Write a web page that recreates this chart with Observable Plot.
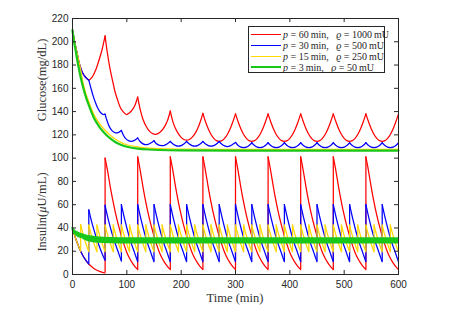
<!DOCTYPE html>
<html>
<head>
<meta charset="utf-8">
<script src="https://cdn.jsdelivr.net/npm/d3@7"></script>
<script src="https://cdn.jsdelivr.net/npm/@observablehq/plot@0.6"></script>
<style>
  html, body { margin: 0; padding: 0; background: #fff; }
  #wrap { position: relative; width: 458px; height: 327px; overflow: hidden; background: #fff; }
  .lab { position: absolute; font-family: "Liberation Serif", "Times New Roman", serif; font-size: 12.5px; color: #333; white-space: nowrap; transform: translate(-50%, -50%); }
  .rot { transform: translate(-50%, -50%) rotate(-90deg); }
  #legend { position: absolute; left: 248px; top: 26px; width: 137px; height: 47px; border: 1px solid #262626; background: #fff; box-sizing: border-box; }
  .row { position: absolute; left: 0; height: 11px; display: flex; align-items: center; white-space: nowrap; font-family: "Liberation Serif", "Times New Roman", serif; font-size: 10px; color: #262626; }
  .sw { width: 30px; height: 0; margin-left: 2px; margin-right: 2px; }
</style>
</head>
<body>
<div id="wrap">
  <div id="chart"></div>
  <div class="lab rot" style="left:42px; top:80px;">Glucose(mg/dL)</div>
  <div class="lab rot" style="left:42px; top:212px;">Insulin(<i>μ</i>U/mL)</div>
  <div class="lab" style="left:235px; top:298px;">Time (min)</div>
  <div id="legend"></div>
</div>
<script>
// ---------- data ----------
const xTicks = [0, 100, 200, 300, 400, 500, 600];
const yTicks = [0, 20, 40, 60, 80, 100, 120, 140, 160, 180, 200, 220];

const seriesNames = ["p60", "p30", "p15", "p3"];
const seriesColors = ["#ff0000", "#0000ff", "#ffd800", "#18c818"];
const periods = [60, 30, 15, 3];
const doses = [1000, 500, 250, 50];

// Glucose (mg/dL) — [time, value]
const redGlucose = [
  [0,210],[4,200],[8,191],[14,179],[19,173],[24,169.5],[30,167],
  [36,169.5],[42,175],[48,183],[54,192.5],[60,205],
  [64,191],[69,177],[74,166],[78,157.5],[83,150],[88,143.5],[93,140],[99,137.5],[105,139],[110,141.5],[115,145.5],[120,152.5],
  [125,141],[130,133],[136,127],[142,123],[147,121.2],[152,120.5],[158,121.3],[164,123.5],[170,127.5],[175,132.5],[180,140.5],
  [185,131],[190,125],[195,120.8],[200,117.8],[205,116],[210,115.5],[215,116],[220,117.8],[225,120.8],[230,125],[235,131],[240,138.5],
  [245,131],[250,125],[255,120.3],[260,117],[265,115],[270,114.5],[275,115],[280,117],[285,120.3],[290,125],[295,131],[300,138],
  [305,131],[310,125],[315,120.3],[320,117],[325,115],[330,114.5],[335,115],[340,117],[345,120.3],[350,125],[355,131],[360,138],
  [365,131],[370,125],[375,120.3],[380,117],[385,115],[390,114.5],[395,115],[400,117],[405,120.3],[410,125],[415,131],[420,138],
  [425,131],[430,125],[435,120.3],[440,117],[445,115],[450,114.5],[455,115],[460,117],[465,120.3],[470,125],[475,131],[480,138],
  [485,131],[490,125],[495,120.3],[500,117],[505,115],[510,114.5],[515,115],[520,117],[525,120.3],[530,125],[535,131],[540,138],
  [545,131],[550,125],[555,120.3],[560,117],[565,115],[570,114.5],[575,115],[580,117],[585,120.3],[590,125],[595,131],[600,138]
];
const blueGlucose = [
  [0,210],[4,200],[8,191],[14,179],[19,173],[24,169.5],[30,167],
  [34,160],[38,153.5],[42,148],[46,143.5],[50,140.2],[54,138.2],[57,137.5],[60,137.8],
  [64,131.5],[69,126],[74,123],[79,121.8],[84,122],[90,123.8],
  [94,119.5],[98,116.8],[103,115],[108,114.5],[114,115.3],[120,117.3],
  [124,114.5],[129,112.5],[134,111.7],[139,111.8],[144,113],[150,115],
  [154,112.5],[159,111.2],[164,110.8],[169,111],[174,112.2],[180,114.3],
  [185,112.1],[190,110.8],[195,110.4],[200,110.8],[205,112.1],[210,114.3],
  [215,112.1],[220,110.8],[225,110.4],[230,110.8],[235,112.1],[240,114.3],
  [245,112.1],[250,110.8],[255,110.4],[260,110.8],[265,112.1],[270,114.3],
  [275,111.9],[280,110.5],[285,110],[290,110.5],[295,111.9],[300,113.5],
  [305,110.85],[310,109.45],[315,109],[320,109.45],[325,110.85],[330,113.2],
  [335,110.85],[340,109.45],[345,109],[350,109.45],[355,110.85],[360,113.2],
  [365,110.85],[370,109.45],[375,109],[380,109.45],[385,110.85],[390,113.2],
  [395,110.85],[400,109.45],[405,109],[410,109.45],[415,110.85],[420,113.2],
  [425,110.85],[430,109.45],[435,109],[440,109.45],[445,110.85],[450,113.2],
  [455,110.85],[460,109.45],[465,109],[470,109.45],[475,110.85],[480,113.2],
  [485,110.85],[490,109.45],[495,109],[500,109.45],[505,110.85],[510,113.2],
  [515,110.85],[520,109.45],[525,109],[530,109.45],[535,110.85],[540,113.2],
  [545,110.85],[550,109.45],[555,109],[560,109.45],[565,110.85],[570,113.2],
  [575,110.85],[580,109.45],[585,109],[590,109.45],[595,110.85],[600,113.2]
];
const yellowGlucose = [
  [0,210],[5,197.5],[10,187],[15,176],[20,163.5],[25,155],[30,148.5],[40,137],[50,129.5],[60,124],
  [70,119.5],[80,116],[90,113.3],[100,111.5],[120,109.7],[140,108.6],[160,108.1],[200,107.8],[300,107.6],[600,107.6]
];
const greenGlucose = [
  [0,210],[3,199.5],[6,192],[10,181],[15,169.5],[20,160],[25,152],[30,145.5],[40,134],[50,126.5],[60,121],
  [70,116.7],[80,113.5],[90,111.3],[100,109.8],[120,108.2],[140,107.4],[160,107],[200,106.7],[300,106.5],[600,106.5]
];

// Insulin (μU/mL) — [time, value]; a repeated time is an injection jump
const redInsulin = [
  [0,40],[5,32],[10,25.5],[15,20],[20,15.5],[25,12],[30,9],[35,6.8],[40,5],[45,3.7],[50,2.7],[55,1.9],[60,1.3],
  [60,100],[65,88],[70,74],[75,62],[80,51],[85,41.5],[90,33],[95,25.5],[100,19],[105,14],[110,10],[115,6.8],[120,4.3],
  [120,101],[125,88.5],[130,74.5],[135,62],[140,51],[145,41.5],[150,33],[155,25.5],[160,19],[165,14],[170,10],[175,6.8],[180,4.3],
  [180,101],[185,88.5],[190,74.5],[195,62],[200,51],[205,41.5],[210,33],[215,25.5],[220,19],[225,14],[230,10],[235,6.8],[240,4.3],
  [240,101],[245,88.5],[250,74.5],[255,62],[260,51],[265,41.5],[270,33],[275,25.5],[280,19],[285,14],[290,10],[295,6.8],[300,4.3],
  [300,101],[305,88.5],[310,74.5],[315,62],[320,51],[325,41.5],[330,33],[335,25.5],[340,19],[345,14],[350,10],[355,6.8],[360,4.3],
  [360,101],[365,88.5],[370,74.5],[375,62],[380,51],[385,41.5],[390,33],[395,25.5],[400,19],[405,14],[410,10],[415,6.8],[420,4.3],
  [420,101],[425,88.5],[430,74.5],[435,62],[440,51],[445,41.5],[450,33],[455,25.5],[460,19],[465,14],[470,10],[475,6.8],[480,4.3],
  [480,101],[485,88.5],[490,74.5],[495,62],[500,51],[505,41.5],[510,33],[515,25.5],[520,19],[525,14],[530,10],[535,6.8],[540,4.3],
  [540,101],[545,88.5],[550,74.5],[555,62],[560,51],[565,41.5],[570,33],[575,25.5],[580,19],[585,14],[590,10],[595,6.8],[600,4.3]
];
const blueInsulin = [
  [0,40],[5,32],[10,25.5],[15,20],[20,15.5],[25,12],[30,9],
  [30,55.5],[36,44],[42,34.5],[48,26],[54,18.5],[60,12],
  [60,59.5],[66,47],[72,36.5],[78,27.5],[84,19.5],[90,11.5],
  [90,60],[96,47.5],[102,36.5],[108,27],[114,19],[120,11],
  [120,60],[126,47.5],[132,36.5],[138,27],[144,19],[150,11],
  [150,60],[156,47.5],[162,36.5],[168,27],[174,19],[180,11],
  [180,60],[186,47.5],[192,36.5],[198,27],[204,19],[210,11],
  [210,60],[216,47.5],[222,36.5],[228,27],[234,19],[240,11],
  [240,60],[246,47.5],[252,36.5],[258,27],[264,19],[270,11],
  [270,60],[276,47.5],[282,36.5],[288,27],[294,19],[300,11],
  [300,60],[306,47.5],[312,36.5],[318,27],[324,19],[330,11],
  [330,60],[336,47.5],[342,36.5],[348,27],[354,19],[360,11],
  [360,60],[366,47.5],[372,36.5],[378,27],[384,19],[390,11],
  [390,60],[396,47.5],[402,36.5],[408,27],[414,19],[420,11],
  [420,60],[426,47.5],[432,36.5],[438,27],[444,19],[450,11],
  [450,60],[456,47.5],[462,36.5],[468,27],[474,19],[480,11],
  [480,60],[486,47.5],[492,36.5],[498,27],[504,19],[510,11],
  [510,60],[516,47.5],[522,36.5],[528,27],[534,19],[540,11],
  [540,60],[546,47.5],[552,36.5],[558,27],[564,19],[570,11],
  [570,60],[576,47.5],[582,36.5],[588,27],[594,19],[600,11]
];
const yellowInsulin = [
  [0,40],[5,32],[10,25.5],[15,20],
  [15,43],[20,33.5],[25,26],[30,19.5],
  [30,42.5],[35,33.5],[40,26],[45,19.5],[45,42.5],[50,33.5],[55,26],[60,19.5],
  [60,42.5],[65,33.5],[70,26],[75,19.5],[75,42.5],[80,33.5],[85,26],[90,19.5],
  [90,42.5],[95,33.5],[100,26],[105,19.5],[105,42.5],[110,33.5],[115,26],[120,19.5],
  [120,42.5],[125,33.5],[130,26],[135,19.5],[135,42.5],[140,33.5],[145,26],[150,19.5],
  [150,42.5],[155,33.5],[160,26],[165,19.5],[165,42.5],[170,33.5],[175,26],[180,19.5],
  [180,42.5],[185,33.5],[190,26],[195,19.5],[195,42.5],[200,33.5],[205,26],[210,19.5],
  [210,42.5],[215,33.5],[220,26],[225,19.5],[225,42.5],[230,33.5],[235,26],[240,19.5],
  [240,42.5],[245,33.5],[250,26],[255,19.5],[255,42.5],[260,33.5],[265,26],[270,19.5],
  [270,42.5],[275,33.5],[280,26],[285,19.5],[285,42.5],[290,33.5],[295,26],[300,19.5],
  [300,42.5],[305,33.5],[310,26],[315,19.5],[315,42.5],[320,33.5],[325,26],[330,19.5],
  [330,42.5],[335,33.5],[340,26],[345,19.5],[345,42.5],[350,33.5],[355,26],[360,19.5],
  [360,42.5],[365,33.5],[370,26],[375,19.5],[375,42.5],[380,33.5],[385,26],[390,19.5],
  [390,42.5],[395,33.5],[400,26],[405,19.5],[405,42.5],[410,33.5],[415,26],[420,19.5],
  [420,42.5],[425,33.5],[430,26],[435,19.5],[435,42.5],[440,33.5],[445,26],[450,19.5],
  [450,42.5],[455,33.5],[460,26],[465,19.5],[465,42.5],[470,33.5],[475,26],[480,19.5],
  [480,42.5],[485,33.5],[490,26],[495,19.5],[495,42.5],[500,33.5],[505,26],[510,19.5],
  [510,42.5],[515,33.5],[520,26],[525,19.5],[525,42.5],[530,33.5],[535,26],[540,19.5],
  [540,42.5],[545,33.5],[550,26],[555,19.5],[555,42.5],[560,33.5],[565,26],[570,19.5],
  [570,42.5],[575,33.5],[580,26],[585,19.5],[585,42.5],[590,33.5],[595,26],[600,19.5]
];
// p = 3 min: oscillation too dense to resolve — read as upper / lower envelope
const greenInsulinT     = [0, 2, 5, 10, 18, 25, 36, 50, 73, 100, 600];
const greenInsulinUpper = [40, 39, 37.5, 36, 34.5, 33.5, 32.5, 31.7, 31.2, 31, 31];
const greenInsulinLower = [39, 35.5, 34.5, 32.5, 31.2, 29.5, 28, 27.3, 26.9, 26.7, 26.7];

// ---------- helpers ----------
function toSegments(points, period) {
  const rows = [], jumps = [];
  let seg = 0;
  points.forEach(([t, v], i) => {
    if (i > 0 && t === points[i - 1][0]) {
      jumps.push({t, lo: points[i - 1][1], hi: v});
      seg++;
      rows.push({t, v, seg});
    } else {
      rows.push({t, v, seg});
      const next = points[i + 1];
      if (period && t > 0 && t % period === 0 && next && next[0] !== t) {
        seg++;
        rows.push({t, v, seg});
      }
    }
  });
  return {rows, jumps};
}

const glucose = [toSegments(redGlucose, 60), toSegments(blueGlucose, 30), toSegments(yellowGlucose, null), toSegments(greenGlucose, null)];
const insulin = [toSegments(redInsulin, 60), toSegments(blueInsulin, 30), toSegments(yellowInsulin, 15)];
const greenBand = greenInsulinT.map((t, i) => ({t, lo: greenInsulinLower[i], hi: greenInsulinUpper[i]}));

const axisColor = "#262626";
const lw = 1.25;
const marks = [];

// series 0..2 (red, blue, yellow): glucose + insulin
for (let k = 0; k < 3; k++) {
  const c = seriesColors[k];
  marks.push(Plot.line(glucose[k].rows, {x: "t", y: "v", z: "seg", stroke: c, strokeWidth: lw, curve: "catmull-rom"}));
  marks.push(Plot.line(insulin[k].rows, {x: "t", y: "v", z: "seg", stroke: c, strokeWidth: lw, curve: "catmull-rom"}));
  marks.push(Plot.ruleX(insulin[k].jumps, {x: "t", y1: "lo", y2: "hi", stroke: c, strokeWidth: lw}));
}
// green series
marks.push(Plot.line(glucose[3].rows, {x: "t", y: "v", stroke: seriesColors[3], strokeWidth: 2.2, curve: "catmull-rom"}));
marks.push(Plot.areaY(greenBand, {x: "t", y1: "lo", y2: "hi", fill: seriesColors[3], stroke: seriesColors[3], strokeWidth: 1.2, curve: "monotone-x"}));

// frame, inward ticks, tick labels
marks.push(Plot.frame({stroke: axisColor, strokeWidth: 1}));
marks.push(Plot.tickX(xTicks, {x: d => d, insetTop: 252, stroke: axisColor}));
marks.push(Plot.tickX(xTicks, {x: d => d, insetBottom: 252, stroke: axisColor}));
marks.push(Plot.tickY(yTicks, {y: d => d, insetRight: 322, stroke: axisColor}));
marks.push(Plot.tickY(yTicks, {y: d => d, insetLeft: 322, stroke: axisColor}));
marks.push(Plot.axisX(xTicks, {tickSize: 0, tickPadding: 6, label: null, fill: axisColor}));
marks.push(Plot.axisY(yTicks, {tickSize: 0, tickPadding: 4, label: null, fill: axisColor}));

const chart = Plot.plot({
  width: 458,
  height: 327,
  marginLeft: 72,
  marginRight: 60,
  marginTop: 18,
  marginBottom: 53,
  x: {domain: [0, 600]},
  y: {domain: [0, 220]},
  style: {fontFamily: "'Liberation Sans', Arial, sans-serif", fontSize: "10px", color: axisColor, background: "#fff"},
  marks
});
document.getElementById("chart").appendChild(chart);

// legend
const legend = document.getElementById("legend");
seriesNames.forEach((name, i) => {
  const row = document.createElement("div");
  row.className = "row";
  row.style.top = (1.8 + i * 10.9) + "px";
  const sw = document.createElement("div");
  sw.className = "sw";
  sw.style.borderTop = (i === 3 ? 2 : 1.5) + "px solid " + seriesColors[i];
  const tx = document.createElement("span");
  tx.innerHTML = `<i>p</i> = ${periods[i]}\u2009min,\u2002 <i>ϱ</i> = ${doses[i]}\u2009mU`;
  row.appendChild(sw);
  row.appendChild(tx);
  legend.appendChild(row);
});
</script>
</body>
</html>
